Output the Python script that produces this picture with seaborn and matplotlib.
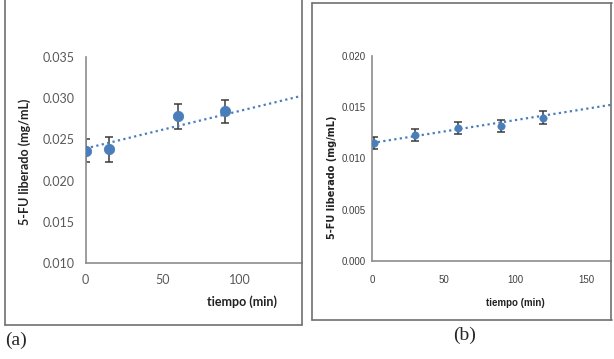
import numpy as np
import pandas as pd
import matplotlib
matplotlib.use("Agg")
import matplotlib.pyplot as plt
from matplotlib.lines import Line2D
import seaborn as sns

# datos panel (a)
t_a = [0, 15, 60, 90]
fu_a = [0.0236, 0.0238, 0.0278, 0.0284]
err_a = [0.0014, 0.0015, 0.0015, 0.0014]
trend_a = [0.0239, 0.0000457]  # intercepto, pendiente (linea de tendencia Excel)

# datos panel (b)
t_b = [1, 30, 60, 90, 120]
fu_b = [0.0115, 0.0123, 0.0130, 0.0132, 0.0140]
err_b = [0.0006, 0.0006, 0.0006, 0.0006, 0.0006]
trend_b = [0.01152, 0.0000222]

sns.set_style("white")
plt.rcParams['font.family'] = ['Lato', 'DejaVu Sans']

blue = '#4a7ebb'
grey_axis = '#8c8c8c'

W, H = 614, 359
fig = plt.figure(figsize=(W / 100, H / 100), dpi=100)


def px_axes(left, top, right, bottom):
    return fig.add_axes([left / W, 1 - bottom / H, (right - left) / W, (bottom - top) / H])


def panel(ax, t, y, err, trend, xlim, ylim, yticks, xticks, ms, tick_font, tick_size, ypad, xpad, txt):
    ax.errorbar(t, y, yerr=err, fmt='none', ecolor='#3a3a3a', elinewidth=1.1,
                capsize=3, capthick=1.1, zorder=2)
    xx = np.linspace(xlim[0], xlim[1], 50)
    df = pd.DataFrame({'t': xx, 'y': trend[0] + trend[1] * xx})
    sns.lineplot(data=df, x='t', y='y', ax=ax, color=blue, linestyle=(0, (1, 1.5)),
                 linewidth=1.6, zorder=3)
    sns.scatterplot(x=t, y=y, ax=ax, color=blue, s=ms, edgecolor=blue, zorder=4)
    ax.set_xlim(*xlim)
    ax.set_ylim(*ylim)
    ax.set_yticks(yticks)
    ax.set_xticks(xticks)
    ax.set_yticklabels([f'{v:.3f}' for v in yticks], family=tick_font, fontsize=tick_size, color=txt)
    ax.set_xticklabels([f'{v:g}' for v in xticks], family=tick_font, fontsize=tick_size, color=txt)
    for s in ['top', 'right']:
        ax.spines[s].set_visible(False)
    for s in ['left', 'bottom']:
        ax.spines[s].set_color(grey_axis)
        ax.spines[s].set_linewidth(1.2)
    ax.tick_params(direction='in', length=3, color=grey_axis)
    ax.tick_params(axis='y', pad=ypad)
    ax.tick_params(axis='x', pad=xpad)
    ax.set_xlabel('')
    ax.set_ylabel('')
    ax.patch.set_alpha(0)


# panel (a)
ax1 = px_axes(85.5, 57, 302, 263)
panel(ax1, t_a, fu_a, err_a, trend_a, (0, 140), (0.010, 0.035),
      [0.010, 0.015, 0.020, 0.025, 0.030, 0.035], [0, 50, 100], 55,
      ['Lato', 'DejaVu Sans'], 9, 8, 8, '#595959')
fig.text(25 / W, 1 - 162 / H, '5-FU liberado (mg/mL)', rotation=90, ha='center', va='center',
         fontsize=9, fontweight='bold', color='#222222', family=['Lato', 'DejaVu Sans'])
fig.text(277 / W, 1 - 302 / H, 'tiempo (min)', ha='right', va='center',
         fontsize=9, fontweight='bold', color='#222222', family=['Lato', 'DejaVu Sans'])

# panel (b)
narrow = ['Liberation Sans', 'DejaVu Sans']
ax2 = px_axes(372.3, 56, 611, 261)
panel(ax2, t_b, fu_b, err_b, trend_b, (0, 167.4), (0.000, 0.020),
      [0.000, 0.005, 0.010, 0.015, 0.020], [0, 50, 100, 150], 28,
      narrow, 7, 4.5, 10, '#404040')
fig.text(332 / W, 1 - 177 / H, '5-FU liberado (mg/mL)', rotation=90, ha='center', va='center',
         fontsize=7, fontweight='bold', color='#222222', family=['DejaVu Sans'])
fig.text(515 / W, 1 - 303 / H, 'tiempo (min)', ha='center', va='center',
         fontsize=7, fontweight='bold', color='#222222', family=narrow)

# marcos de cada figura
frame = '#707070'
def seg(x0, y0, x1, y1):
    fig.add_artist(Line2D([x0 / W, x1 / W], [1 - y0 / H, 1 - y1 / H], color=frame, lw=1.2))

seg(5, 0, 5, 325)
seg(5, 325, 302, 325)
seg(302, 0, 302, 325)
seg(312, 3, 612, 3)
seg(312, 3, 312, 320)
seg(312, 320, 612, 320)
seg(611, 3, 611, 320)

fig.text(5 / W, 1 - 340 / H, '(a)', ha='left', va='center', fontsize=14,
         family=['Liberation Serif', 'DejaVu Serif'])
fig.text(465 / W, 1 - 335 / H, '(b)', ha='center', va='center', fontsize=14,
         family=['Liberation Serif', 'DejaVu Serif'])

fig.savefig('out.png', dpi=100)
